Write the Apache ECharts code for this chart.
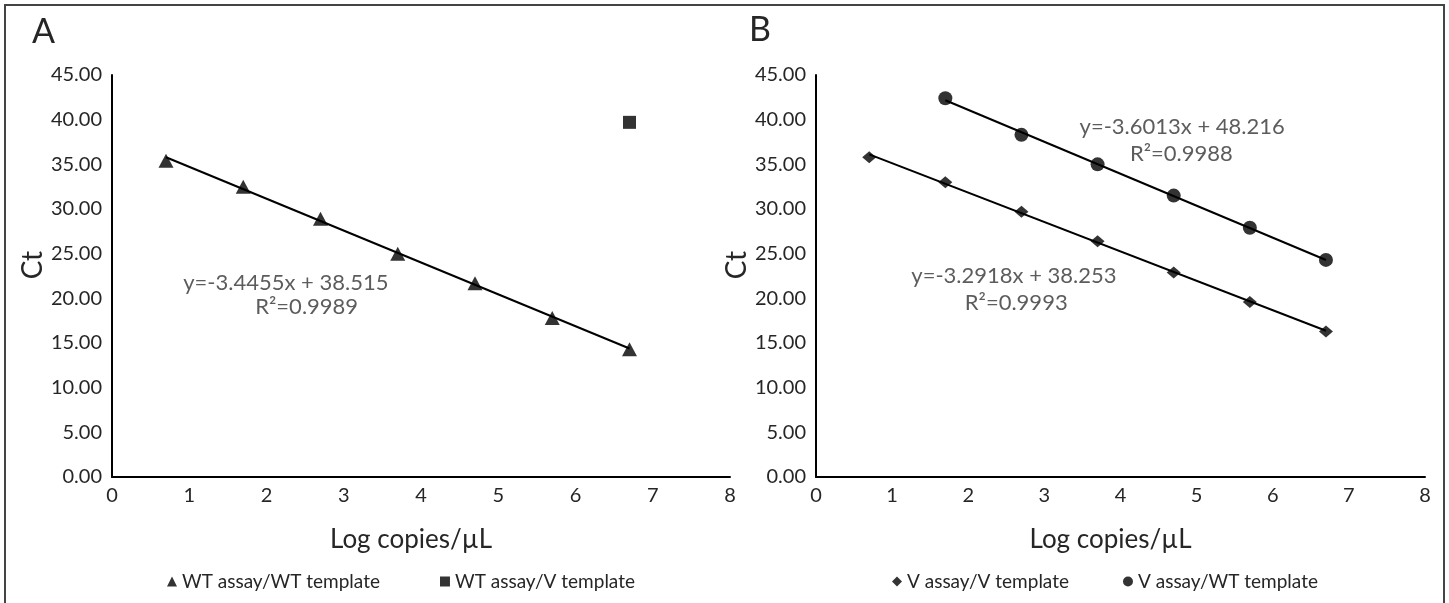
<!DOCTYPE html>
<html>
<head>
<meta charset="utf-8">
<script src="https://cdn.jsdelivr.net/npm/echarts@6/dist/echarts.min.js"></script>
<style>
html,body{margin:0;padding:0;background:#fff;}
#chart{width:1449px;height:603px;}
</style>
</head>
<body>
<div id="chart"></div>
<script>
// ---- data ----
const xTicks = [0, 1, 2, 3, 4, 5, 6, 7, 8];
const yTicks = [0, 5, 10, 15, 20, 25, 30, 35, 40, 45];

const logWT = [0.699, 1.699, 2.699, 3.699, 4.699, 5.699, 6.699];   // panel A, WT template
const ctWTassayWT = [35.4, 32.5, 28.9, 25.0, 21.7, 17.8, 14.3];
const logWTassayV = [6.699];
const ctWTassayV = [39.7];

const logVV = [0.699, 1.699, 2.699, 3.699, 4.699, 5.699, 6.699];    // panel B
const ctVassayV = [35.8, 33.0, 29.7, 26.4, 22.9, 19.6, 16.3];
const logVWT = [1.699, 2.699, 3.699, 4.699, 5.699, 6.699];
const ctVassayWT = [42.4, 38.3, 35.0, 31.5, 27.9, 24.3];

const eqA = ['y=-3.4455x + 38.515', 'R²=0.9989'];
const eqBtop = ['y=-3.6013x + 48.216', 'R²=0.9988'];
const eqBbot = ['y=-3.2918x + 38.253', 'R²=0.9993'];
// label anchor positions (data coords)
const eqApos = [[2.25, 21.7], [2.52, 19.0]];
const eqBtopPos = [[4.81, 39.2], [4.80, 36.2]];
const eqBbotPos = [[2.60, 22.5], [2.63, 19.5]];

const names = ['WT assay/WT template', 'WT assay/V template', 'V assay/V template', 'V assay/WT template'];

// ---- helpers ----
function pairs(xs, ys) { return xs.map((x, i) => [x, ys[i]]); }
function fitLine(xs, ys) {
  const n = xs.length;
  const mx = xs.reduce((a, b) => a + b, 0) / n;
  const my = ys.reduce((a, b) => a + b, 0) / n;
  let sxy = 0, sxx = 0;
  for (let i = 0; i < n; i++) { sxy += (xs[i] - mx) * (ys[i] - my); sxx += (xs[i] - mx) ** 2; }
  const b = sxy / sxx, a = my - b * mx;
  const x0 = Math.min(...xs), x1 = Math.max(...xs);
  return [[x0, a + b * x0], [x1, a + b * x1]];
}

const FONT = 'Lato';
const TXT = '#262626';

function xAxis(gi) {
  return {
    gridIndex: gi, type: 'value', min: 0, max: 8, interval: 1,
    name: 'Log copies/µL', nameLocation: 'middle', nameGap: 50,
    nameTextStyle: { fontFamily: FONT, fontSize: 26, color: TXT, padding: [0, 20, 0, 0] },
    axisLine: { show: true, lineStyle: { color: '#000', width: 2 } },
    axisTick: { show: false }, splitLine: { show: false },
    axisLabel: { fontFamily: FONT, fontSize: 20, color: TXT, margin: 9 }
  };
}
function yAxis(gi, gap) {
  return {
    gridIndex: gi, type: 'value', min: 0, max: 45, interval: 5,
    name: 'Ct', nameLocation: 'middle', nameGap: gap, nameRotate: 90,
    nameTextStyle: { fontFamily: FONT, fontSize: 28, color: TXT, padding: [0, 0, 0, 22] },
    axisLine: { show: true, lineStyle: { color: '#000', width: 2 } },
    axisTick: { show: false }, splitLine: { show: false },
    axisLabel: { fontFamily: FONT, fontSize: 20, color: TXT, margin: 10, formatter: v => v.toFixed(2) }
  };
}
function textSeries(gi, lines, pos) {
  return {
    type: 'scatter', xAxisIndex: gi, yAxisIndex: gi, symbolSize: 0, silent: true, z: 5,
    data: pos.map((p, i) => ({ value: p, label: { formatter: lines[i] } })),
    label: { show: true, position: 'inside', fontFamily: FONT, fontSize: 22, color: '#333' }
  };
}
function trend(gi, xs, ys) {
  return {
    type: 'line', xAxisIndex: gi, yAxisIndex: gi, data: fitLine(xs, ys), symbol: 'none', silent: true, z: 2,
    lineStyle: { color: '#000', width: 2 }
  };
}
function marks(gi, name, xs, ys, symbol, size) {
  return {
    type: 'scatter', name: name, xAxisIndex: gi, yAxisIndex: gi, data: pairs(xs, ys),
    symbol: symbol, symbolSize: size, z: 3, itemStyle: { color: '#000' }
  };
}

const chart = echarts.init(document.getElementById('chart'), null, { renderer: 'canvas' });
chart.setOption({
  animation: false,
  backgroundColor: '#fff',
  title: [
    { text: 'A', left: 27, top: 10, textStyle: { fontFamily: FONT, fontSize: 34, fontWeight: 'normal', color: TXT } },
    { text: 'B', left: 744, top: 8, textStyle: { fontFamily: FONT, fontSize: 34, fontWeight: 'normal', color: TXT } }
  ],
  graphic: [{
    type: 'rect', shape: { x: 5, y: 5, width: 1439, height: 640 }, silent: true,
    style: { fill: 'none', stroke: '#444', lineWidth: 2 }
  }],
  grid: [
    { left: 112, top: 75, width: 618, height: 402 },
    { left: 816, top: 75, width: 609, height: 402 }
  ],
  xAxis: [xAxis(0), xAxis(1)],
  yAxis: [yAxis(0, 64), yAxis(1, 53)],
  legend: [
    { data: [{ name: names[0], icon: 'triangle' }, { name: names[1], icon: 'rect' }], left: 162, top: 567,
      itemWidth: 10, itemHeight: 10, itemGap: 60, textStyle: { fontFamily: FONT, fontSize: 19, color: TXT } },
    { data: [{ name: names[2], icon: 'diamond' }, { name: names[3], icon: 'circle' }], left: 887, top: 567,
      itemWidth: 10, itemHeight: 10, itemGap: 54, textStyle: { fontFamily: FONT, fontSize: 19, color: TXT } }
  ],
  series: [
    trend(0, logWT, ctWTassayWT),
    marks(0, names[0], logWT, ctWTassayWT, 'triangle', [15, 14]),
    marks(0, names[1], logWTassayV, ctWTassayV, 'rect', 13),
    textSeries(0, eqA, eqApos),
    trend(1, logVV, ctVassayV),
    trend(1, logVWT, ctVassayWT),
    marks(1, names[2], logVV, ctVassayV, 'diamond', [14, 12]),
    marks(1, names[3], logVWT, ctVassayWT, 'circle', 14),
    textSeries(1, eqBtop, eqBtopPos),
    textSeries(1, eqBbot, eqBbotPos)
  ]
});
</script>
</body>
</html>
